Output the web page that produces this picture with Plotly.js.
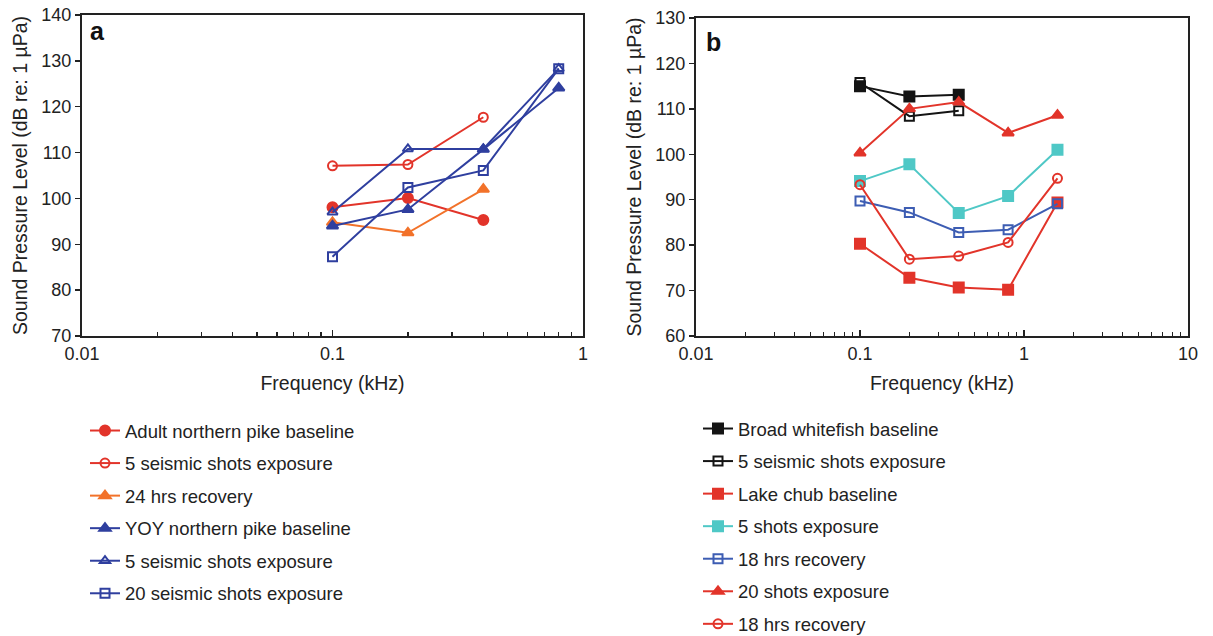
<!DOCTYPE html>
<html>
<head>
<meta charset="utf-8">
<script src="https://cdn.plot.ly/plotly-3.0.1.min.js"></script>
<style>html,body{margin:0;padding:0;background:#fff;}#chart{width:1213px;height:636px;}</style>
</head>
<body>
<div id="chart"></div>
<script>
// ---- Panel a data (frequency in kHz, SPL in dB re 1 µPa) ----
const freqA3 = [0.1, 0.2, 0.4];
const freqA4 = [0.1, 0.2, 0.4, 0.8];
const adultBaseline = [98.1, 100.1, 95.3];
const adult5Shots = [107.1, 107.4, 117.7];
const adult24hRecovery = [94.8, 92.5, 102.0];
const yoyBaseline = [94.0, 97.6, 110.7, 124.1];
const yoy5Shots = [97.0, 110.8, 110.8, 128.3];
const yoy20Shots = [87.3, 102.4, 106.1, 128.3];

// ---- Panel b data ----
const freqB3 = [0.1, 0.2, 0.4];
const freqB5 = [0.1, 0.2, 0.4, 0.8, 1.6];
const whitefishBaseline = [115.0, 112.7, 113.1];
const whitefish5Shots = [115.8, 108.4, 109.6];
const chubBaseline = [80.3, 72.8, 70.7, 70.2, 89.4];
const chub5Shots = [94.1, 97.8, 87.1, 90.8, 101.0];
const chub18hRecoveryA = [89.7, 87.2, 82.8, 83.4, 89.1];
const chub20Shots = [100.3, 110.0, 111.5, 104.7, 108.6];
const chub18hRecoveryB = [93.3, 76.9, 77.6, 80.6, 94.7];

const RED = '#e2342a', ORANGE = '#f2722a', BLUE = '#2f3f9f', BLACK = '#141414', CYAN = '#4fc8c6', MBLUE = '#3d5db3';

function tr(x, y, name, color, symbol, axis, legend, grp) {
  return {
    x: x, y: y, name: name, type: 'scatter', mode: 'lines+markers',
    xaxis: axis === 'a' ? 'x' : 'x2', yaxis: axis === 'a' ? 'y' : 'y2',
    legend: legend, legendgroup: grp,
    line: {color: color, width: 2},
    marker: {symbol: symbol, size: symbol.indexOf('open') >= 0 ? 9 : 10, color: color, line: {color: color, width: 2}}
  };
}

const data = [
  tr(freqA3, adultBaseline, 'Adult northern pike baseline', RED, 'circle', 'a', 'legend', 'a1'),
  tr(freqA3, adult5Shots, '5 seismic shots exposure', RED, 'circle-open', 'a', 'legend', 'a2'),
  tr(freqA3, adult24hRecovery, '24 hrs recovery', ORANGE, 'triangle-up', 'a', 'legend', 'a3'),
  tr(freqA4, yoyBaseline, 'YOY northern pike baseline', BLUE, 'triangle-up', 'a', 'legend', 'a4'),
  tr(freqA4, yoy5Shots, '5 seismic shots exposure', BLUE, 'triangle-up-open', 'a', 'legend', 'a5'),
  tr(freqA4, yoy20Shots, '20 seismic shots exposure', BLUE, 'square-open', 'a', 'legend', 'a6'),
  tr(freqB3, whitefishBaseline, 'Broad whitefish baseline', BLACK, 'square', 'b', 'legend2', 'b1'),
  tr(freqB3, whitefish5Shots, '5 seismic shots exposure', BLACK, 'square-open', 'b', 'legend2', 'b2'),
  tr(freqB5, chubBaseline, 'Lake chub baseline', RED, 'square', 'b', 'legend2', 'b3'),
  tr(freqB5, chub5Shots, '5 shots exposure', CYAN, 'square', 'b', 'legend2', 'b4'),
  tr(freqB5, chub18hRecoveryA, '18 hrs recovery', MBLUE, 'square-open', 'b', 'legend2', 'b5'),
  tr(freqB5, chub20Shots, '20 shots exposure', RED, 'triangle-up', 'b', 'legend2', 'b6'),
  tr(freqB5, chub18hRecoveryB, '18 hrs recovery', RED, 'circle-open', 'b', 'legend2', 'b7')
];

const W = 1213, H = 636;
const FONT = 'Liberation Sans, Arial, sans-serif';
const minorVals = [];
[0.01, 0.1, 1].forEach(d => { for (let k = 2; k <= 9; k++) minorVals.push(d * k); });

function xAxis(domain, range, tv) {
  return {
    type: 'log', domain: domain, range: range, showgrid: false, zeroline: false,
    showline: true, linecolor: '#222', linewidth: 2, mirror: true,
    ticks: 'inside', ticklen: 6, tickwidth: 1.5, tickcolor: '#222',
    tickvals: tv, ticktext: tv.map(String), ticklabelstandoff: 0,
    minor: {ticks: 'inside', ticklen: 4, tickwidth: 1.2, tickcolor: '#222', tickvals: minorVals, showgrid: false},
    tickfont: {family: FONT, size: 18, color: '#222'},
    title: {text: 'Frequency (kHz)', font: {family: FONT, size: 19.5, color: '#222'}, standoff: 14},
    automargin: false, fixedrange: true
  };
}
function yAxis(domain, range, anchor) {
  return {
    domain: domain, range: range, dtick: 10, showgrid: false, zeroline: false, anchor: anchor,
    showline: true, linecolor: '#222', linewidth: 2, mirror: true,
    ticks: 'outside', ticklen: 5, tickwidth: 1.5, tickcolor: '#222',
    tickfont: {family: FONT, size: 18, color: '#222'},
    title: {text: 'Sound Pressure Level (dB re: 1 µPa)', font: {family: FONT, size: 19.5, color: '#222'}, standoff: 9},
    automargin: false, fixedrange: true
  };
}

const legendBase = {
  traceorder: 'grouped', tracegroupgap: 5.5, bgcolor: 'rgba(0,0,0,0)',
  font: {family: FONT, size: 18.5, color: '#222'}, xanchor: 'left', yanchor: 'top',
  itemclick: false, itemdoubleclick: false
};

const layout = {
  width: W, height: H,
  margin: {l: 0, r: 0, t: 0, b: 0, autoexpand: false},
  paper_bgcolor: '#fff', plot_bgcolor: '#fff',
  showlegend: true,
  xaxis: Object.assign(xAxis([82 / W, 583 / W], [-2, 0], [0.01, 0.1, 1]), {anchor: 'y'}),
  yaxis: yAxis([(H - 336) / H, (H - 15) / H], [70, 140], 'x'),
  xaxis2: Object.assign(xAxis([696 / W, 1188 / W], [-2, 1], [0.01, 0.1, 1, 10]), {anchor: 'y2'}),
  yaxis2: yAxis([(H - 336) / H, (H - 18) / H], [60, 130], 'x2'),
  legend: Object.assign({}, legendBase, {x: 85 / W, y: (H - 412) / H}),
  legend2: Object.assign({}, legendBase, {x: 698 / W, y: (H - 410) / H}),
  annotations: [
    {text: '<b>a</b>', xref: 'paper', yref: 'paper', x: 97 / W, y: (H - 31) / H, xanchor: 'center', yanchor: 'middle',
     showarrow: false, font: {family: FONT, size: 25, color: '#111'}},
    {text: '<b>b</b>', xref: 'paper', yref: 'paper', x: 713 / W, y: (H - 42) / H, xanchor: 'center', yanchor: 'middle',
     showarrow: false, font: {family: FONT, size: 25, color: '#111'}}
  ]
};

Plotly.newPlot('chart', data, layout, {displayModeBar: false, staticPlot: true});
</script>
</body>
</html>
